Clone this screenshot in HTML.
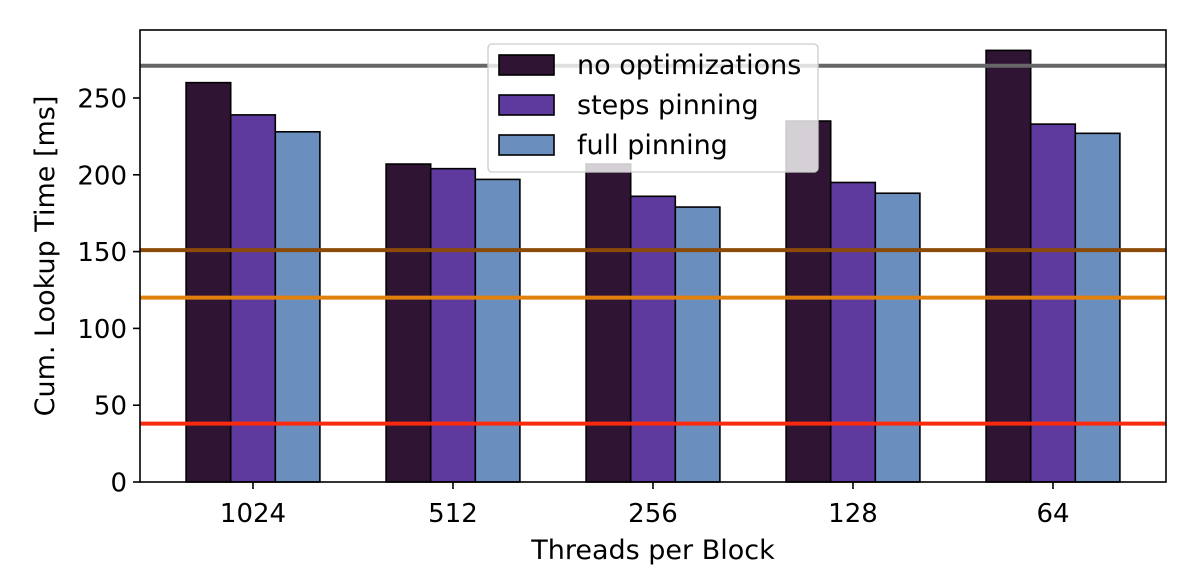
<!DOCTYPE html>
<html><head><meta charset="utf-8"><style>
body{margin:0;background:#fff}
svg text{font-family:"DejaVu Sans",sans-serif;fill:#000}
</style></head><body>
<svg id="chart" width="1196" height="567" viewBox="0 0 1196 567" xmlns="http://www.w3.org/2000/svg"></svg>
<script>
const categories=["1024","512","256","128","64"];
const noOpt=[260,207,207,235,281];
const stepsPin=[239,204,186,195,233];
const fullPin=[228,197,179,188,227];
const refLines=[271,151,120,38];
const refColors=["#666666","#8b4a08","#e2800c","#fa2a0e"];
const yTicks=[0,50,100,150,200,250];

const svg=document.getElementById('chart');
const NS="http://www.w3.org/2000/svg";
const L=140,R=1166,T=30,B=482;
const y=v=>B-v*1.536;
function mk(tag,attrs,parent){const e=document.createElementNS(NS,tag);for(const k in attrs)e.setAttribute(k,attrs[k]);(parent||svg).appendChild(e);return e;}

const series=[[noOpt,"#2f1434","no optimizations"],[stepsPin,"#5e3a9f","steps pinning"],[fullPin,"#6a8fbf","full pinning"]];
const bw=44.6;
series.forEach((s,si)=>{
  s[0].forEach((v,i)=>{
    const cx=253+200*i;
    const r=mk('rect',{x:cx-1.5*bw+si*bw,y:y(v),width:bw,height:B-y(v),fill:s[1],stroke:"#000","stroke-width":1.6});
    
    
  });
});
refLines.forEach((v,i)=>{
  const l=mk('line',{x1:L,x2:R,y1:y(v),y2:y(v),stroke:refColors[i],"stroke-width":4});
  
  
});
const ax=mk('rect',{x:L,y:T,width:R-L,height:B-T,fill:"none",stroke:"#000","stroke-width":1.6});


yTicks.forEach(v=>{
  mk('line',{x1:L-7,x2:L,y1:y(v),y2:y(v),stroke:"#000","stroke-width":1.6});
  const t=mk('text',{x:L-13,y:y(v)+9.5,"text-anchor":"end","font-size":26});t.textContent=v;
  
  
});
categories.forEach((c,i)=>{
  const cx=253+200*i;
  mk('line',{x1:cx,x2:cx,y1:B,y2:B+7,stroke:"#000","stroke-width":1.6});
  const t=mk('text',{x:cx,y:522,"text-anchor":"middle","font-size":26});t.textContent=c;
  
  
});
const xt=mk('text',{x:653,y:559,"text-anchor":"middle","font-size":27});xt.textContent="Threads per Block";


const yt=mk('text',{x:0,y:0,"text-anchor":"middle","font-size":27,transform:"translate(54,256) rotate(-90)"});yt.textContent="Cum. Lookup Time [ms]";


const lg=mk('g',{});


mk('rect',{x:488,y:44,width:330,height:128,rx:4,fill:"#fff","fill-opacity":0.8,stroke:"#ccc","stroke-width":1.3},lg);
series.forEach((s,si)=>{
  const yy=55+si*40;
  mk('rect',{x:499,y:yy,width:55,height:20,fill:s[1],stroke:"#000","stroke-width":1.6},lg);
  const t=mk('text',{x:577,y:yy+19,"font-size":27},lg);t.textContent=s[2];
  
  
});
</script>
</body></html>
